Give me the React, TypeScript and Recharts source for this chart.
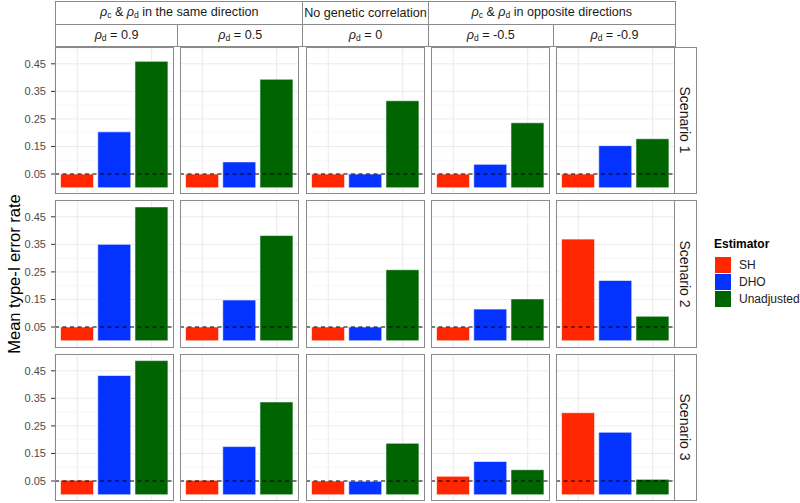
import React from "react";
import { BarChart, Bar, XAxis, YAxis, CartesianGrid, ReferenceLine, Cell } from "recharts";

const estimators = ["SH", "DHO", "Unadjusted"];
const estimatorColors = ["#FF2600", "#0433FF", "#006400"];
const rhoD = ["0.9", "0.5", "0", "-0.5", "-0.9"];
const scenarios = ["Scenario 1", "Scenario 2", "Scenario 3"];

// rows = scenarios, columns = rho_d
const sh = [
  [0.05, 0.05, 0.05, 0.05, 0.05],
  [0.05, 0.05, 0.05, 0.05, 0.369],
  [0.053, 0.053, 0.05, 0.067, 0.298],
];
const dho = [
  [0.203, 0.094, 0.05, 0.085, 0.153],
  [0.35, 0.148, 0.05, 0.115, 0.219],
  [0.433, 0.175, 0.049, 0.121, 0.227],
];
const unadjusted = [
  [0.459, 0.394, 0.316, 0.236, 0.178],
  [0.486, 0.382, 0.258, 0.152, 0.089],
  [0.487, 0.337, 0.187, 0.091, 0.056],
];

const yTicks = [0.05, 0.15, 0.25, 0.35, 0.45];
const yMinor = [0, 0.1, 0.2, 0.3, 0.4, 0.5];
const yDomain: [number, number] = [-0.0244, 0.511];
const nominal = 0.05;

const FONT = "'Liberation Sans', Arial, Helvetica, sans-serif";
const PLOT_LEFT = 55;
const PANEL_W = 119;
const PANEL_H = 147.5;
const GAP_X = 6.25;
const GAP_Y = 6;
const TOP = 46.5;
const STRIP_H = 22.5;
const BORDER = "#8a8a8a";
const TEXT = "#1A1A1A";

const colX = (c: number) => PLOT_LEFT + c * (PANEL_W + GAP_X);
const rowY = (r: number) => TOP + r * (PANEL_H + GAP_Y);
const stripEdge = (c: number) =>
  c === 0 ? PLOT_LEFT : c === 5 ? colX(4) + PANEL_W : colX(c) - GAP_X / 2;

const Rho = ({ sub }: { sub: string }) => (
  <span>
    <i>ρ</i>
    <sub style={{ fontSize: 8.5, verticalAlign: "-2px" }}>{sub}</sub>
  </span>
);

const groups = [
  { from: 0, to: 2, label: <span><Rho sub="c" /> &amp; <Rho sub="d" /> in the same direction</span> },
  { from: 2, to: 3, label: <span>No genetic correlation</span> },
  { from: 3, to: 5, label: <span><Rho sub="c" /> &amp; <Rho sub="d" /> in opposite directions</span> },
];

function Strip({ left, top, width, height, children, rotate }: any) {
  return (
    <div
      style={{
        position: "absolute",
        left,
        top,
        width,
        height,
        boxSizing: "border-box",
        border: `1px solid ${BORDER}`,
        background: "#fff",
        display: "flex",
        alignItems: "center",
        justifyContent: "center",
        color: TEXT,
        fontSize: 12.6,
        whiteSpace: "nowrap",
      }}
    >
      <div style={rotate ? { transform: "rotate(90deg)", fontSize: 14 } : undefined}>{children}</div>
    </div>
  );
}

function Panel({ row, col }: { row: number; col: number }) {
  const series = [sh, dho, unadjusted];
  const data = estimators.map((e, i) => ({ estimator: e, value: series[i][row][col] }));
  const withAxis = col === 0;
  const width = withAxis ? PANEL_W + PLOT_LEFT : PANEL_W;
  return (
    <div style={{ position: "absolute", left: withAxis ? 0 : colX(col), top: rowY(row), width, height: PANEL_H }}>
      <BarChart
        width={width}
        height={PANEL_H}
        data={data}
        margin={{ top: 0, right: 0, bottom: 0, left: 0 }}
        barCategoryGap="5%"
      >
        <CartesianGrid horizontalValues={yMinor} vertical={false} stroke="#F3F3F3" strokeWidth={0.6} />
        <CartesianGrid stroke="#EBEBEB" strokeWidth={1} />
        <XAxis dataKey="estimator" type="category" hide padding={{ left: 3.7, right: 3.7 }} />
        <YAxis
          type="number"
          domain={yDomain}
          ticks={yTicks}
          allowDataOverflow
          hide={!withAxis}
          width={PLOT_LEFT}
          axisLine={false}
          tickSize={4}
          tickMargin={5}
          tickLine={{ stroke: "#333" }}
          tick={{ fill: "#4D4D4D", fontSize: 11, fontFamily: FONT }}
          tickFormatter={(v: number) => v.toFixed(2)}
        />
        <Bar dataKey="value" isAnimationActive={false} stroke="#ffffff" strokeWidth={0.6}>
          {data.map((d, i) => (
            <Cell key={d.estimator} fill={estimatorColors[i]} />
          ))}
        </Bar>
        <ReferenceLine y={nominal} stroke="#000" strokeDasharray="4 3.5" strokeWidth={1} />
      </BarChart>
      <div
        style={{
          position: "absolute",
          left: withAxis ? PLOT_LEFT : 0,
          top: 0,
          width: PANEL_W,
          height: PANEL_H,
          boxSizing: "border-box",
          border: `1px solid ${BORDER}`,
          pointerEvents: "none",
        }}
      />
    </div>
  );
}

export default function App() {
  return (
    <div style={{ position: "relative", width: 800, height: 503, background: "#fff", fontFamily: FONT, overflow: "hidden" }}>
      <style>{"body{margin:0}"}</style>
      {groups.map((g, i) => (
        <Strip
          key={i}
          left={stripEdge(g.from)}
          top={1}
          width={stripEdge(g.to) - stripEdge(g.from) + 1}
          height={STRIP_H + 1}
        >
          {g.label}
        </Strip>
      ))}
      {rhoD.map((r, c) => (
        <Strip
          key={r}
          left={stripEdge(c)}
          top={1 + STRIP_H}
          width={stripEdge(c + 1) - stripEdge(c) + 1}
          height={STRIP_H + 1}
        >
          <Rho sub="d" /> = {r}
        </Strip>
      ))}
      {scenarios.map((s, r) => (
        <Strip key={s} left={colX(4) + PANEL_W - 1} top={rowY(r)} width={23} height={PANEL_H} rotate>
          {s}
        </Strip>
      ))}
      {scenarios.map((s, r) => rhoD.map((d, c) => <Panel key={`${s}-${d}`} row={r} col={c} />))}
      <div
        style={{
          position: "absolute",
          left: 14,
          top: rowY(0) + (rowY(2) + PANEL_H - rowY(0)) / 2,
          transform: "translate(-50%, -50%) rotate(-90deg)",
          fontSize: 16.5,
          color: "#000",
          whiteSpace: "nowrap",
        }}
      >
        Mean type-I error rate
      </div>
      <div style={{ position: "absolute", left: 714, top: 237 }}>
        <div style={{ fontWeight: "bold", fontSize: 12, color: "#000", marginBottom: 5 }}>Estimator</div>
        {estimators.map((e, i) => (
          <div key={e} style={{ display: "flex", alignItems: "center", height: 17.4 }}>
            <div style={{ width: 16, height: 16, background: estimatorColors[i], marginLeft: 1 }} />
            <span style={{ marginLeft: 8, fontSize: 12, color: TEXT }}>{e}</span>
          </div>
        ))}
      </div>
    </div>
  );
}
